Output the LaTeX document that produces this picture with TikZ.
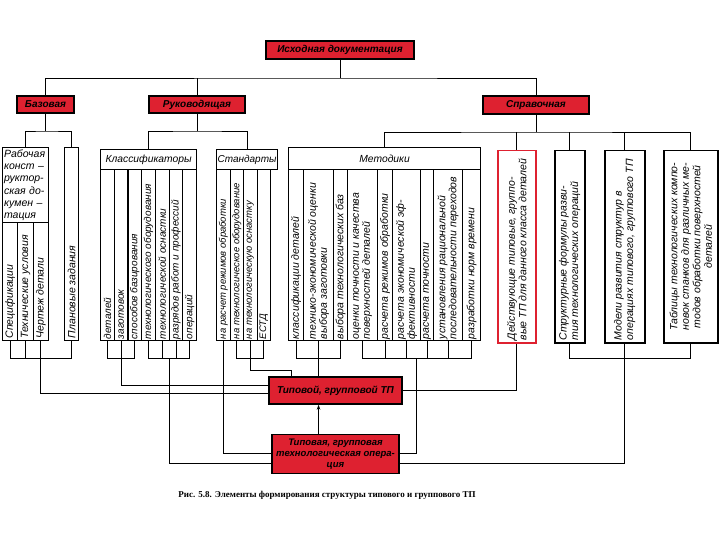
\documentclass[tikz,border=0pt]{standalone}
\usepackage{fontspec}
\usepackage{graphicx}
\usetikzlibrary{arrows.meta, positioning, calc}
\setmainfont{Liberation Serif}
\newfontfamily\gost{Liberation Sans}
\definecolor{docred}{HTML}{DE2130}
\newcommand{\vtxt}[3][\raggedright]{\rotatebox{90}{\parbox{#2}{#1#3}}}

\begin{document}
\begin{tikzpicture}[
    x=1pt, y=-1pt,
    redbox/.style={rectangle, draw, line width=1.4pt, fill=docred, inner sep=1pt,
                   font=\gost\bfseries\itshape\fontsize{10}{11}\selectfont},
    hdr/.style={rectangle, draw, line width=1.2pt, anchor=north west, inner sep=1pt,
                font=\gost\itshape\fontsize{10.3}{12}\selectfont},
    vcol/.style={rectangle, draw, line width=1.1pt, anchor=north west, inner sep=0pt,
                 font=\gost\itshape\fontsize{10}{11}\selectfont},
    sbox/.style={vcol, line width=1.5pt, font=\gost\itshape\fontsize{10.5}{11.5}\selectfont},
    link/.style={line width=0.9pt},
    arr/.style={-{Stealth[length=5pt, width=3.5pt]}, line width=0.9pt},
]
    \useasboundingbox (0,0) rectangle (720,540);

    % Top level
    \node[redbox, minimum width=148, minimum height=18] (src) at (340,50) {Исходная документация};
    \node[redbox, minimum width=57, minimum height=17] (baz) at (45.5,104.5) {Базовая};
    \node[redbox, minimum width=96, minimum height=17] (ruk) at (197,104.5) {Руководящая};
    \node[redbox, minimum width=106, minimum height=18] (spr) at (536,105) {Справочная};

    \coordinate (b0) at (340,78);
    \coordinate (b1) at (45.5,131);
    \coordinate (b2) at (197,131);
    \coordinate (b3) at (536,132);
    \coordinate (yb) at (0,358.5);

    % Basic documentation
    \node[hdr, minimum width=46, minimum height=75, text width=43, align=left,
          font=\gost\itshape\fontsize{10.5}{12.2}\selectfont] (rab) at (2,147)
        {Рабочая\\конст –\\руктор-\\ская до-\\кумен –\\тация};
    \foreach \t [count=\i] in {Спецификации, Технические условия, Чертеж детали}
        \node[vcol, minimum width=15.33, minimum height=118, font=\gost\itshape\fontsize{10.5}{11}\selectfont]
            (r\i) at ({2+15.33*(\i-1)},222) {\vtxt{114pt}{\t}};
    \node[vcol, minimum width=14, minimum height=193, font=\gost\itshape\fontsize{10.5}{11}\selectfont]
        (plan) at (64,147) {\vtxt{188pt}{Плановые задания}};

    % Guiding documentation
    \node[hdr, minimum width=96, minimum height=20] (klass) at (100,149) {Классификаторы};
    \foreach \t [count=\i] in {деталей, заготовок, способов базирования, технологического оборудования,
                               технологической оснастки, разрядов работ и профессий, операций}
        \node[vcol, minimum width=13.714, minimum height=171] (k\i) at ({100+13.714*(\i-1)},169) {\vtxt{168pt}{\t}};
    \node[hdr, minimum width=54, minimum height=20, font=\gost\itshape\fontsize{10}{12}\selectfont] (std) at (216,149) {Стандарты};
    \foreach \t [count=\i] in {на расчет режимов обработки, на технологическое оборудование,
                               на технологическую оснастку, ЕСТД}
        \node[vcol, minimum width=13.5, minimum height=171, font=\gost\itshape\fontsize{9.5}{10}\selectfont]
            (s\i) at ({216+13.5*(\i-1)},169) {\vtxt{168pt}{\t}};

    % Reference documentation
    \node[hdr, minimum width=192, minimum height=22] (met) at (288,147) {Методики};
    \foreach \l/\r/\t [count=\i] in {288/303/{классификации деталей},
            303/333/{технико-экономической оценки\\выбора заготовки},
            333/347/{выбора технологических баз},
            347/377/{оценки точности и качества\\поверхностей деталей},
            377/392/{расчета режимов обработки},
            392/420/{расчета экономической эф-\\фективности},
            420/433/{расчета точности},
            433/462/{установления рациональной\\последовательности переходов},
            462/480/{разработки норм времени}}
        \node[vcol, minimum width=\r-\l, minimum height=171, font=\gost\itshape\fontsize{10.5}{11}\selectfont]
            (m\i) at (\l,169) {\vtxt{168pt}{\t}};
    \node[sbox, draw=docred, minimum width=38, minimum height=192] (act) at (497,150)
        {\vtxt{187pt}{Действующие типовые, группо-\\вые ТП для данного класса деталей}};
    \node[sbox, minimum width=30, minimum height=192] (str) at (554,150)
        {\vtxt{187pt}{Структурные формулы разви-\\тия технологических операций}};
    \node[sbox, minimum width=40, minimum height=192] (mod) at (604,150)
        {\vtxt{187pt}{Модели развития структур в\\операциях типового, группового ТП}};
    \node[sbox, minimum width=54, minimum height=192] (tab) at (663,150)
        {\vtxt[\centering]{187pt}{Таблицы технологических компо-\\новок станков для различных ме-\\тодов обработки поверхностей\\деталей}};

    % Result
    \node[redbox, minimum width=133, minimum height=27] (tp) at (335.5,390.5) {Типовой, групповой ТП};
    \node[redbox, below=29pt of tp, minimum width=127, minimum height=39, align=center,
          font=\gost\bfseries\itshape\fontsize{9.5}{11}\selectfont] (op)
        {Типовая, групповая\\технологическая опера-\\ция};

    % Tree
    \draw[link] (src) -- (b0);
    \draw[link] (baz) |- (b0) -| (spr);
    \draw[link] (ruk) -- (ruk |- b0);
    \draw[link] (baz) -- (b1);
    \draw[link] (rab) |- (b1) -| (plan);
    \draw[link] (ruk) -- (b2);
    \draw[link] (klass) |- (b2) -| (std);
    \draw[link] (spr) -- (b3);
    \draw[link] (met) |- (b3) -| (tab);
    \draw[link] (act) -- (act |- b3);
    \draw[link] (str) -- (str |- b3);
    \draw[link] (mod) -- (mod |- b3);

    % Bottom links
    \draw[link] (r1.south) -- (r1.south |- yb) -| (plan.south);
    \draw[link] (r2.south) -- (r2.south |- yb);
    \draw[link] (r3.south) |- ([yshift=-3pt]tp.west);
    \draw[link] (k1.south) -- (k1.south |- yb) -| (k3.south);
    \draw[link] (k2.south) |- ([yshift=5pt]tp.west);
    \draw[link] (k4.south) -- (k4.south |- yb) -| (k7.south);
    \foreach \i in {5,6}
        \draw[link] (k\i.south) -- (k\i.south |- yb);
    \draw[link] ($(k5.south |- yb)!.5!(k6.south |- yb)$) |- ([yshift=-9.5pt]op.west);
    \draw[link] (s1.south) |- (op.west);
    \draw[link] (s2.south) -- (s2.south |- yb) -| (s4.south);
    \draw[link] (s3.south) -- ++(0,29) -| ([xshift=-44pt]tp.north);
    \draw[link] (m1.south) -- (m1.south |- yb) -| (m3.south);
    \draw[link] (m2.south) -- (m2.south |- tp.north);
    \draw[link] (m4.south) -- (m4.south |- yb) -| (m9.south);
    \foreach \i in {5,...,8}
        \draw[link] (m\i.south) -- (m\i.south |- yb);
    \draw[link] ($(m6.south |- yb)!.5!(m7.south |- yb)$) |- (op.east);
    \draw[link] (act.south) |- (tp.east);
    \draw[link] (str.south) -- (str.south |- yb) -| (tab.south);
    \draw[link] (mod.south) |- ([yshift=-9.5pt]op.east);
    \draw[arr] (op.north -| m2.south) -- (tp.south -| m2.south);

    % Caption
    \node[font=\bfseries\fontsize{9}{10}\selectfont] (cap) at (327,495)
        {Рис. 5.8. Элементы формирования структуры типового и группового ТП};
\end{tikzpicture}
\end{document}
